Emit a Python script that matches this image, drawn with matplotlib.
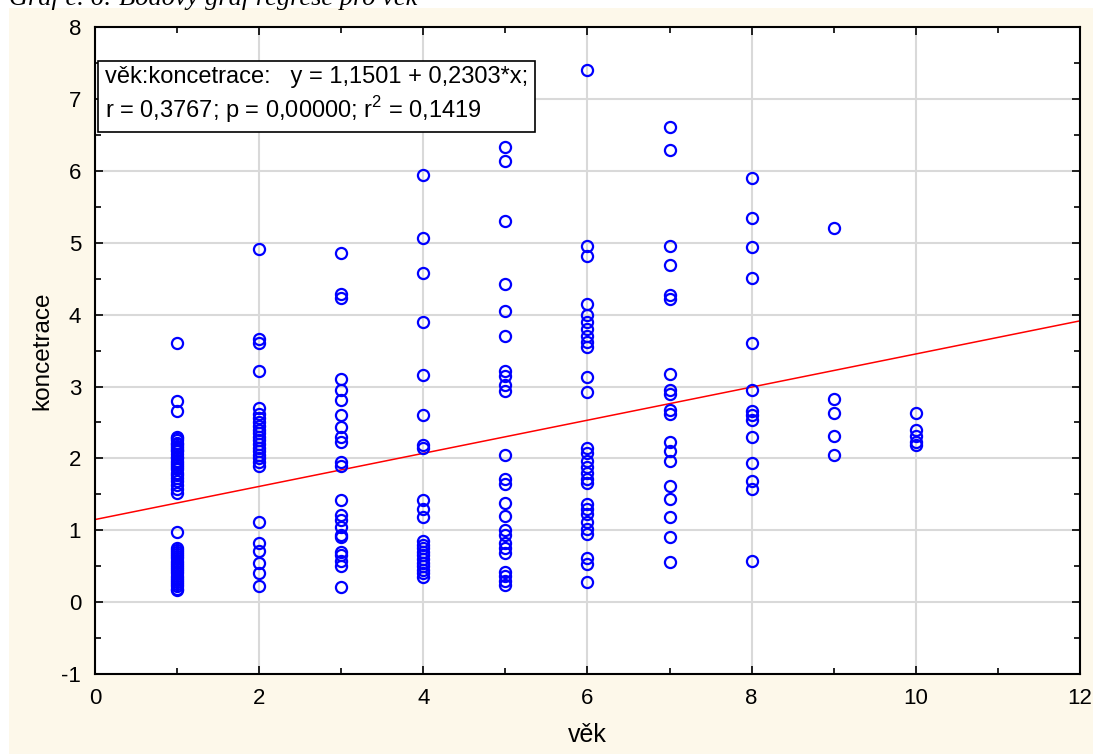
import numpy as np
import matplotlib.pyplot as plt
from matplotlib.patches import Rectangle
from matplotlib.ticker import MultipleLocator

# ----------------------------------------------------------------------
# data (vek -> koncetrace)
# ----------------------------------------------------------------------
vek1 = [3.61, 2.80, 2.66, 2.30, 2.28, 2.25, 2.22, 2.20, 2.17, 2.15, 2.12, 2.10,
        2.06, 2.02, 2.00, 1.97, 1.94, 1.91, 1.88, 1.85, 1.80, 1.77, 1.73, 1.68,
        1.63, 1.58, 1.52, 0.98, 0.75, 0.72, 0.70, 0.67, 0.64, 0.61, 0.58, 0.55,
        0.52, 0.49, 0.46, 0.43, 0.40, 0.37, 0.34, 0.31, 0.28, 0.25, 0.22, 0.19,
        0.17]
vek2 = [4.92, 3.66, 3.61, 3.21, 2.70, 2.62, 2.56, 2.50, 2.45, 2.40, 2.35, 2.30,
        2.25, 2.20, 2.15, 2.10, 2.05, 2.00, 1.95, 1.90, 1.12, 0.82, 0.71, 0.55,
        0.41, 0.22]
vek3 = [4.86, 4.29, 4.23, 3.10, 2.95, 2.81, 2.60, 2.44, 2.30, 2.23, 1.95, 1.90,
        1.42, 1.21, 1.15, 1.05, 0.93, 0.91, 0.70, 0.65, 0.58, 0.51, 0.21]
vek4 = [5.95, 5.07, 4.58, 3.90, 3.16, 2.60, 2.18, 2.15, 1.42, 1.30, 1.19, 0.85,
        0.80, 0.75, 0.70, 0.65, 0.60, 0.55, 0.50, 0.45, 0.40, 0.35]
vek5 = [6.33, 6.14, 5.30, 4.42, 4.05, 3.70, 3.22, 3.15, 3.02, 2.94, 2.05, 1.72,
        1.65, 1.38, 1.20, 1.00, 0.93, 0.83, 0.75, 0.68, 0.42, 0.36, 0.29, 0.24]
vek6 = [7.40, 4.96, 4.82, 4.15, 4.00, 3.90, 3.80, 3.70, 3.62, 3.55, 3.13, 2.93,
        2.15, 2.07, 1.97, 1.88, 1.80, 1.72, 1.66, 1.37, 1.30, 1.22, 1.12, 1.02,
        0.95, 0.62, 0.53, 0.28]
vek7 = [6.61, 6.29, 4.96, 4.69, 4.27, 4.22, 3.18, 2.95, 2.90, 2.67, 2.62, 2.23,
        2.10, 1.97, 1.62, 1.44, 1.19, 0.91, 0.56]
vek8 = [5.90, 5.34, 4.94, 4.51, 3.60, 2.95, 2.66, 2.60, 2.54, 2.30, 1.93, 1.68,
        1.58, 0.58]
vek9 = [5.21, 2.82, 2.63, 2.31, 2.05]
vek10 = [2.63, 2.40, 2.31, 2.23, 2.18]

groups = [vek1, vek2, vek3, vek4, vek5, vek6, vek7, vek8, vek9, vek10]

intercept = 1.1501
slope = 0.2303

title = "Graf č. 6: Bodový graf regrese pro věk"
box_text = ("věk:koncetrace:   y = 1,1501 + 0,2303*x;\n"
            "r = 0,3767; p = 0,00000; r$^2$ = 0,1419")

# ----------------------------------------------------------------------
plt.rcParams['font.family'] = ['Liberation Sans', 'DejaVu Sans']
plt.rcParams['axes.unicode_minus'] = False
plt.rcParams['mathtext.fontset'] = 'custom'
plt.rcParams['mathtext.rm'] = 'Liberation Sans'

x = np.concatenate([np.full(len(g), i + 1) for i, g in enumerate(groups)])
y = np.concatenate([np.array(g) for g in groups])

fig = plt.figure(figsize=(10.93, 7.54), dpi=100, facecolor='white')
fig.patches.append(Rectangle((0.008, 0), 0.992, 0.99, transform=fig.transFigure,
                             facecolor='#fdf8ea', edgecolor='none', zorder=-10))
fig.text(0.008, 1.002, title, fontsize=19, style='italic',
         family='Liberation Serif', va='center', ha='left')

ax = fig.add_axes([0.087, 0.106, 0.901, 0.858])
ax.set_facecolor('white')

xl = np.array([0, 12])
ax.plot(xl, intercept + slope * xl, color='red', lw=1.1, zorder=2)
ax.plot(x, y, 'o', mfc='none', mec='#0000ff', ms=8, mew=1.6, zorder=3)

ax.set_xlim(0, 12)
ax.set_ylim(-1, 8)
ax.xaxis.set_major_locator(MultipleLocator(2))
ax.xaxis.set_minor_locator(MultipleLocator(1))
ax.yaxis.set_major_locator(MultipleLocator(1))
ax.yaxis.set_minor_locator(MultipleLocator(0.5))
ax.grid(True, which='major', color='#d9d9d9', lw=1.5, zorder=0)
ax.tick_params(which='both', direction='in', top=True, right=True, width=1.2)
ax.tick_params(which='major', length=6, pad=10, labelsize=16)
ax.tick_params(which='minor', length=4)
for s in ax.spines.values():
    s.set_linewidth(1.5)

ax.set_xlabel('věk', fontsize=18, labelpad=10)
ax.set_ylabel('koncetrace', fontsize=17.5, labelpad=6)

ax.text(0.01, 0.94, box_text, transform=ax.transAxes, fontsize=17,
        va='top', ha='left', linespacing=1.25,
        bbox=dict(boxstyle='square,pad=0.3', facecolor='white',
                  edgecolor='black', lw=1.2), zorder=5)

fig.savefig('out.png', dpi=100)
